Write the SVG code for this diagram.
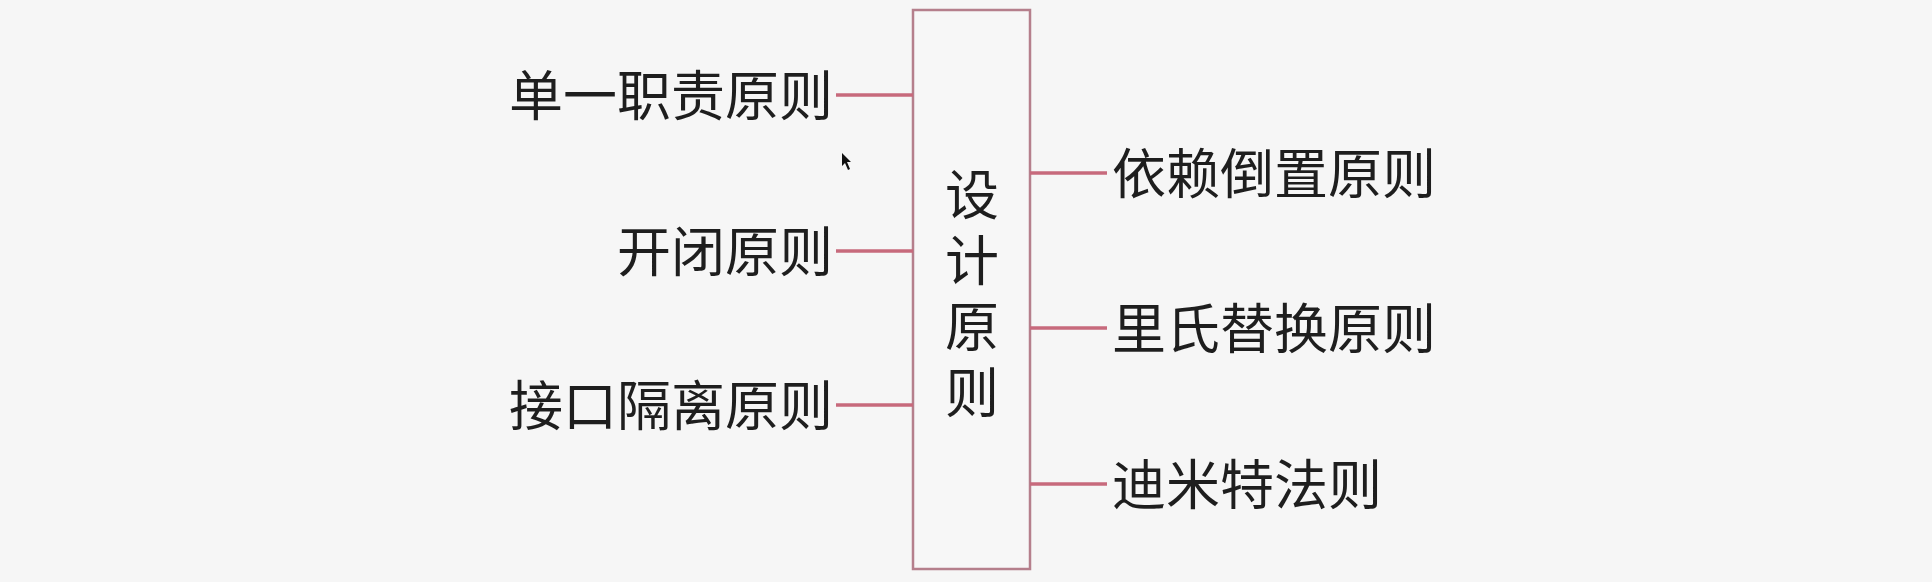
<svg xmlns="http://www.w3.org/2000/svg" width="1932" height="582" viewBox="0 0 1932 582">
<style>
.t{font-family:"Noto Sans CJK SC","Noto Sans",sans-serif;font-size:54px;fill:#1e1e1e}
.c{stroke:#c76a7c;stroke-width:3.5;fill:none}
.b{stroke:#b57f8c;stroke-width:2.5;fill:#f7f7f7}
</style>
<rect width="1932" height="582" fill="#f6f6f6"/>
<g id="center">
<rect class="b" x="913" y="10" width="117" height="559"/>
<text class="t" x="972" y="167" writing-mode="tb" style="writing-mode:vertical-rl;letter-spacing:12px">设计原则</text>
</g>
<g id="connectors">
<line class="c" x1="836" y1="95" x2="913" y2="95"/>
<line class="c" x1="836" y1="251" x2="913" y2="251"/>
<line class="c" x1="836" y1="405" x2="913" y2="405"/>
<line class="c" x1="1030" y1="173" x2="1107" y2="173"/>
<line class="c" x1="1030" y1="328" x2="1107" y2="328"/>
<line class="c" x1="1030" y1="484" x2="1107" y2="484"/>
</g>
<g id="n1"><text class="t" x="833" y="116" text-anchor="end">单一职责原则</text></g>
<g id="n2"><text class="t" x="833" y="272" text-anchor="end">开闭原则</text></g>
<g id="n3"><text class="t" x="833" y="426" text-anchor="end">接口隔离原则</text></g>
<g id="n4"><text class="t" x="1112" y="194">依赖倒置原则</text></g>
<g id="n5"><text class="t" x="1112" y="349">里氏替换原则</text></g>
<g id="n6"><text class="t" x="1112" y="505">迪米特法则</text></g>
<path d="M842,153 L842,166 L845,163 L848,170 L850,169 L847,162 L851,162 Z" fill="#111"/>
</svg>
